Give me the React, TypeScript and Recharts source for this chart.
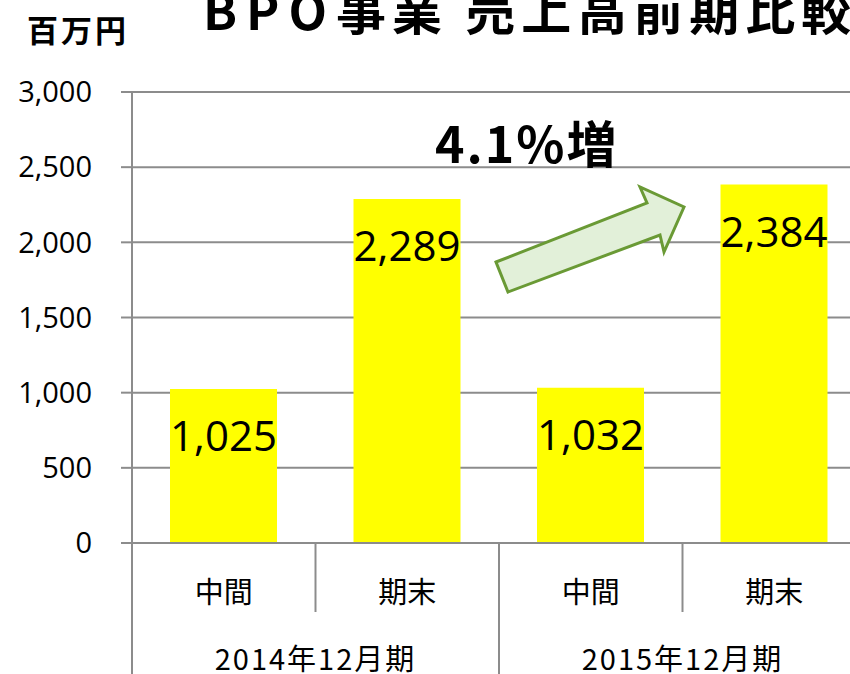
import React from 'react'
import { BarChart, Bar, XAxis, YAxis, CartesianGrid, LabelList } from 'recharts'

const periods = ['2014年12月期', '2014年12月期', '2015年12月期', '2015年12月期']
const halves = ['中間', '期末', '中間', '期末']
const sales = [1025, 2289, 1032, 2384]
const yTicks = [0, 500, 1000, 1500, 2000, 2500, 3000]

const GRID = '#8c8c8c'
const JP = '"Noto Sans CJK JP", "Noto Sans", sans-serif'
const NUM = '"Open Sans", "Liberation Sans", sans-serif'

const CHART_W = 870
const CHART_H = 700
const MARGIN = { top: 92, right: 4, bottom: 0, left: 0 }
const Y_AXIS_W = 132
const BAND = (CHART_W - MARGIN.left - MARGIN.right - Y_AXIS_W) / halves.length

const data = halves.map((h, i) => ({
  key: `${periods[i]}-${h}`,
  half: h,
  period: periods[i],
  sales: sales[i],
}))

function CategoryTick(props: any) {
  const { x, y, payload, index } = props
  const row = data[payload?.index ?? index] ?? data[0]
  const i = data.indexOf(row)
  const left = x - BAND / 2
  const right = x + BAND / 2
  const startsGroup = i % 2 === 0
  return (
    <g>
      <line
        x1={left}
        x2={left}
        y1={y}
        y2={startsGroup ? y + 200 : y + 69}
        stroke={GRID}
        strokeWidth={2}
      />
      {i === data.length - 1 && (
        <line x1={right} x2={right} y1={y} y2={y + 200} stroke={GRID} strokeWidth={2} />
      )}
      <text
        x={x}
        y={y + 47}
        textAnchor="middle"
        dominantBaseline="central"
        fontFamily={JP}
        fontSize={29}
        fill="#000"
      >
        {row.half}
      </text>
      {!startsGroup && (
        <text
          x={left}
          y={y + 114}
          textAnchor="middle"
          dominantBaseline="central"
          fontFamily={JP}
          fontSize={29}
          letterSpacing={2}
          fill="#000"
        >
          {row.period}
        </text>
      )}
    </g>
  )
}

function ValueLabel(props: any) {
  const { x, y, width, value } = props
  return (
    <text
      x={x + width / 2}
      y={y + 62}
      textAnchor="middle"
      fontFamily={NUM}
      fontSize={42}
      fill="#000"
    >
      {Number(value).toLocaleString('en-US')}
    </text>
  )
}

export default function App() {
  return (
    <div
      style={{
        position: 'absolute',
        left: 0,
        top: 0,
        width: 850,
        height: 674,
        overflow: 'hidden',
        background: '#fff',
      }}
    >
      <BarChart width={CHART_W} height={CHART_H} data={data} margin={MARGIN}>
        <CartesianGrid vertical={false} stroke={GRID} strokeWidth={2} />
        <XAxis
          dataKey="key"
          interval={0}
          height={CHART_H - MARGIN.top - 451}
          tickLine={false}
          tickSize={0}
          tickMargin={0}
          axisLine={{ stroke: GRID, strokeWidth: 2 }}
          tick={<CategoryTick />}
        />
        <YAxis
          width={Y_AXIS_W}
          domain={[0, 3000]}
          ticks={yTicks}
          interval={0}
          tickSize={11}
          tickMargin={29}
          tickLine={{ stroke: GRID, strokeWidth: 2 }}
          axisLine={{ stroke: GRID, strokeWidth: 2 }}
          tick={{ fill: '#000', fontSize: 29, fontFamily: NUM }}
          tickFormatter={(v: number) => v.toLocaleString('en-US')}
        />
        <Bar dataKey="sales" fill="#FFFF00" barSize={107} isAnimationActive={false}>
          <LabelList dataKey="sales" content={<ValueLabel />} />
        </Bar>
      </BarChart>

      {/* title, unit and the growth callout sit over the chart */}
      <svg
        width={850}
        height={674}
        style={{ position: 'absolute', left: 0, top: 0, pointerEvents: 'none' }}
      >
        <text x={203} y={30} fontFamily={JP} fontWeight="bold" fontSize={50} fill="#000">
          <tspan letterSpacing={9}>BPO</tspan>
          <tspan letterSpacing={6}>事業 売上高前期比較</tspan>
        </text>
        <text x={27} y={42} fontFamily={JP} fontWeight="bold" fontSize={31} letterSpacing={3} fill="#000">
          百万円
        </text>
        <text x={435} y={163} fontFamily={JP} fontWeight="bold" fontSize={50} letterSpacing={2} fill="#000">
          4.1%増
        </text>
        <polygon
          points="496,262 647,203 640,187 684,207 664,252 660,235 508,292"
          fill="#e2f0d9"
          stroke="#6a9a35"
          strokeWidth={3}
          strokeLinejoin="miter"
        />
      </svg>
    </div>
  )
}
